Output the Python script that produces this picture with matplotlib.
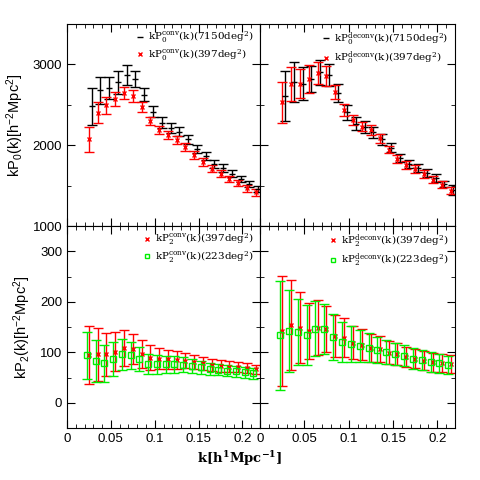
import matplotlib
matplotlib.use("Agg")
import matplotlib.pyplot as plt
import numpy as np
from matplotlib.lines import Line2D
from matplotlib.ticker import MultipleLocator

plt.rcParams["mathtext.default"] = "regular"
plt.rcParams["font.family"] = ["Liberation Sans", "DejaVu Sans"]

k = 0.025 + 0.01 * np.arange(20)

# monopole, convolved (top left)
p0_conv_big = [2479, 2679, 2708, 2779, 2867, 2820, 2625, 2417, 2279, 2217,
               2167, 2075, 1958, 1862, 1771, 1717, 1646, 1583, 1521, 1458]
p0_conv_big_err = [225, 167, 140, 140, 125, 100, 83, 70, 65, 60,
                   56, 55, 50, 48, 47, 45, 45, 42, 38, 40]
p0_conv_small = [2075, 2404, 2492, 2575, 2646, 2604, 2471, 2300, 2188, 2125,
                 2062, 1979, 1883, 1792, 1708, 1646, 1583, 1529, 1467, 1417]
p0_conv_small_err = [155, 125, 105, 85, 75, 75, 60, 55, 55, 52,
                     52, 52, 50, 46, 42, 44, 42, 40, 42, 42]

# monopole, deconvolved (top right)
p0_dec_big = [2604, 2783, 2762, 2820, 2904, 2867, 2646, 2408, 2267, 2221,
              2158, 2071, 1967, 1846, 1771, 1721, 1654, 1592, 1521, 1446]
p0_dec_big_err = [310, 245, 200, 165, 155, 135, 110, 95, 80, 73,
                  69, 63, 56, 48, 48, 48, 48, 48, 42, 62]
p0_dec_small = [2529, 2758, 2762, 2820, 2896, 2854, 2658, 2438, 2313, 2229,
                2188, 2083, 1946, 1833, 1750, 1708, 1646, 1575, 1512, 1437]
p0_dec_small_err = [250, 215, 180, 170, 135, 125, 90, 75, 65, 58,
                    58, 54, 48, 50, 50, 46, 46, 42, 42, 42]

# quadrupole, convolved (bottom left)
p2_conv_397 = [94, 96, 96, 101, 109, 106, 97, 89, 87, 86,
               85, 83, 81, 78, 75, 73, 71, 70, 68, 66]
p2_conv_397_err = [57, 53, 43, 39, 36, 30, 28, 25, 21, 19,
                   18, 15, 14, 13, 12, 12, 11, 10, 10, 9]
p2_conv_223 = [94, 83, 78, 86, 96, 94, 86, 76, 76, 76,
               76, 75, 72, 70, 66, 65, 63, 62, 60, 58]
p2_conv_223_err = [47, 41, 37, 34, 31, 27, 24, 20, 19, 17,
                   17, 15, 14, 13, 12, 11, 11, 11, 11, 10]

# quadrupole, deconvolved (bottom right)
p2_dec_397 = [142, 154, 149, 142, 149, 146, 132, 129, 119, 115,
              109, 106, 99, 96, 91, 87, 83, 80, 78, 76]
p2_dec_397_err = [109, 89, 70, 56, 55, 46, 41, 38, 33, 31,
                  28, 26, 23, 22, 20, 19, 19, 19, 18, 18]
p2_dec_223 = [134, 142, 140, 134, 147, 146, 130, 120, 116, 113,
              109, 105, 101, 96, 93, 87, 84, 81, 78, 75]
p2_dec_223_err = [108, 81, 66, 59, 55, 49, 45, 40, 36, 32,
                  29, 26, 24, 22, 21, 21, 20, 20, 19, 18]

fig = plt.figure(figsize=(4.8, 4.8), dpi=100)
L, W = 67 / 480, 193 / 480
R, W2 = 260 / 480, 195 / 480
B, H = 1 - 428 / 480, 202 / 480

ax_tl = fig.add_axes([L, B + H, W, H])
ax_tr = fig.add_axes([R, B + H, W2, H])
ax_bl = fig.add_axes([L, B, W, H])
ax_br = fig.add_axes([R, B, W2, H])

green = "#00ee00"
eb = dict(capsize=3.5, elinewidth=1, capthick=1, linestyle="none")
legfont = {"family": "DejaVu Serif", "size": 7.5}

black_h = Line2D([], [], color="black", marker="_", ms=4, mew=1, linestyle="none")
red_h = Line2D([], [], color="red", marker="x", ms=2.5, mew=1, linestyle="none")
green_h = Line2D([], [], color=green, marker="s", ms=3, mfc="none", mew=1, linestyle="none")

# top left
ax_tl.errorbar(k + 0.003, p0_conv_big, yerr=p0_conv_big_err, color="black",
               marker="_", ms=5, **eb)
ax_tl.errorbar(k, p0_conv_small, yerr=p0_conv_small_err, color="red",
               marker="x", ms=3, **eb)
# top right
ax_tr.errorbar(k + 0.003, p0_dec_big, yerr=p0_dec_big_err, color="black",
               marker="_", ms=5, **eb)
ax_tr.errorbar(k, p0_dec_small, yerr=p0_dec_small_err, color="red",
               marker="x", ms=3, **eb)
# bottom left
ax_bl.errorbar(k, p2_conv_397, yerr=p2_conv_397_err, color="red",
               marker="x", ms=3, **eb)
ax_bl.errorbar(k - 0.0025, p2_conv_223, yerr=p2_conv_223_err, color=green,
               marker="s", ms=5, mfc="none", **eb)
# bottom right
ax_br.errorbar(k, p2_dec_397, yerr=p2_dec_397_err, color="red",
               marker="x", ms=3, **eb)
ax_br.errorbar(k - 0.0025, p2_dec_223, yerr=p2_dec_223_err, color=green,
               marker="s", ms=5, mfc="none", **eb)

legends = {
    ax_tl: ([black_h, red_h], [r"kP$_0^{conv}$(k)(7150deg$^2$)", r"kP$_0^{conv}$(k)(397deg$^2$)"]),
    ax_tr: ([black_h, red_h], [r"kP$_0^{deconv}$(k)(7150deg$^2$)", r"kP$_0^{deconv}$(k)(397deg$^2$)"]),
    ax_bl: ([red_h, green_h], [r"kP$_2^{conv}$(k)(397deg$^2$)", r"kP$_2^{conv}$(k)(223deg$^2$)"]),
    ax_br: ([red_h, green_h], [r"kP$_2^{deconv}$(k)(397deg$^2$)", r"kP$_2^{deconv}$(k)(223deg$^2$)"]),
}

for ax in (ax_tl, ax_tr, ax_bl, ax_br):
    ax.set_xlim(0, 0.22)
    ax.xaxis.set_major_locator(MultipleLocator(0.05))
    ax.xaxis.set_minor_locator(MultipleLocator(0.01))
    ax.tick_params(which="both", direction="in", top=True, right=True, labelsize=9.5)
    ax.tick_params(which="major", length=6)
    ax.tick_params(which="minor", length=3)
    handles, labels = legends[ax]
    ax.legend(handles, labels, loc="upper right", frameon=False, prop=legfont,
              handlelength=0.6, handletextpad=0.5, borderaxespad=0.2, labelspacing=0.2)

for ax in (ax_tl, ax_tr):
    ax.set_ylim(1000, 3500)
    ax.yaxis.set_major_locator(MultipleLocator(1000))
    ax.yaxis.set_minor_locator(MultipleLocator(500))
    ax.tick_params(labelbottom=False)
for ax in (ax_bl, ax_br):
    ax.set_ylim(-50, 350)
    ax.yaxis.set_major_locator(MultipleLocator(100))
    ax.yaxis.set_minor_locator(MultipleLocator(50))
    ax.set_xticks([0, 0.05, 0.1, 0.15, 0.2])
    ax.set_xticklabels(["0", "0.05", "0.1", "0.15", "0.2"])
for ax in (ax_tr, ax_br):
    ax.tick_params(labelleft=False)

ax_tl.set_ylabel(r"kP$_0$(k)[h$^{-2}$Mpc$^2$]", fontsize=10.5, labelpad=5)
ax_bl.set_ylabel(r"kP$_2$(k)[h$^{-2}$Mpc$^2$]", fontsize=10.5, labelpad=5)
fig.text(0.5, 0.065, r"k[h$^{1}$Mpc$^{-1}$]", ha="center", va="top",
         fontsize=9.5, fontweight="bold", family="DejaVu Serif")

fig.savefig("out.png", dpi=100)
